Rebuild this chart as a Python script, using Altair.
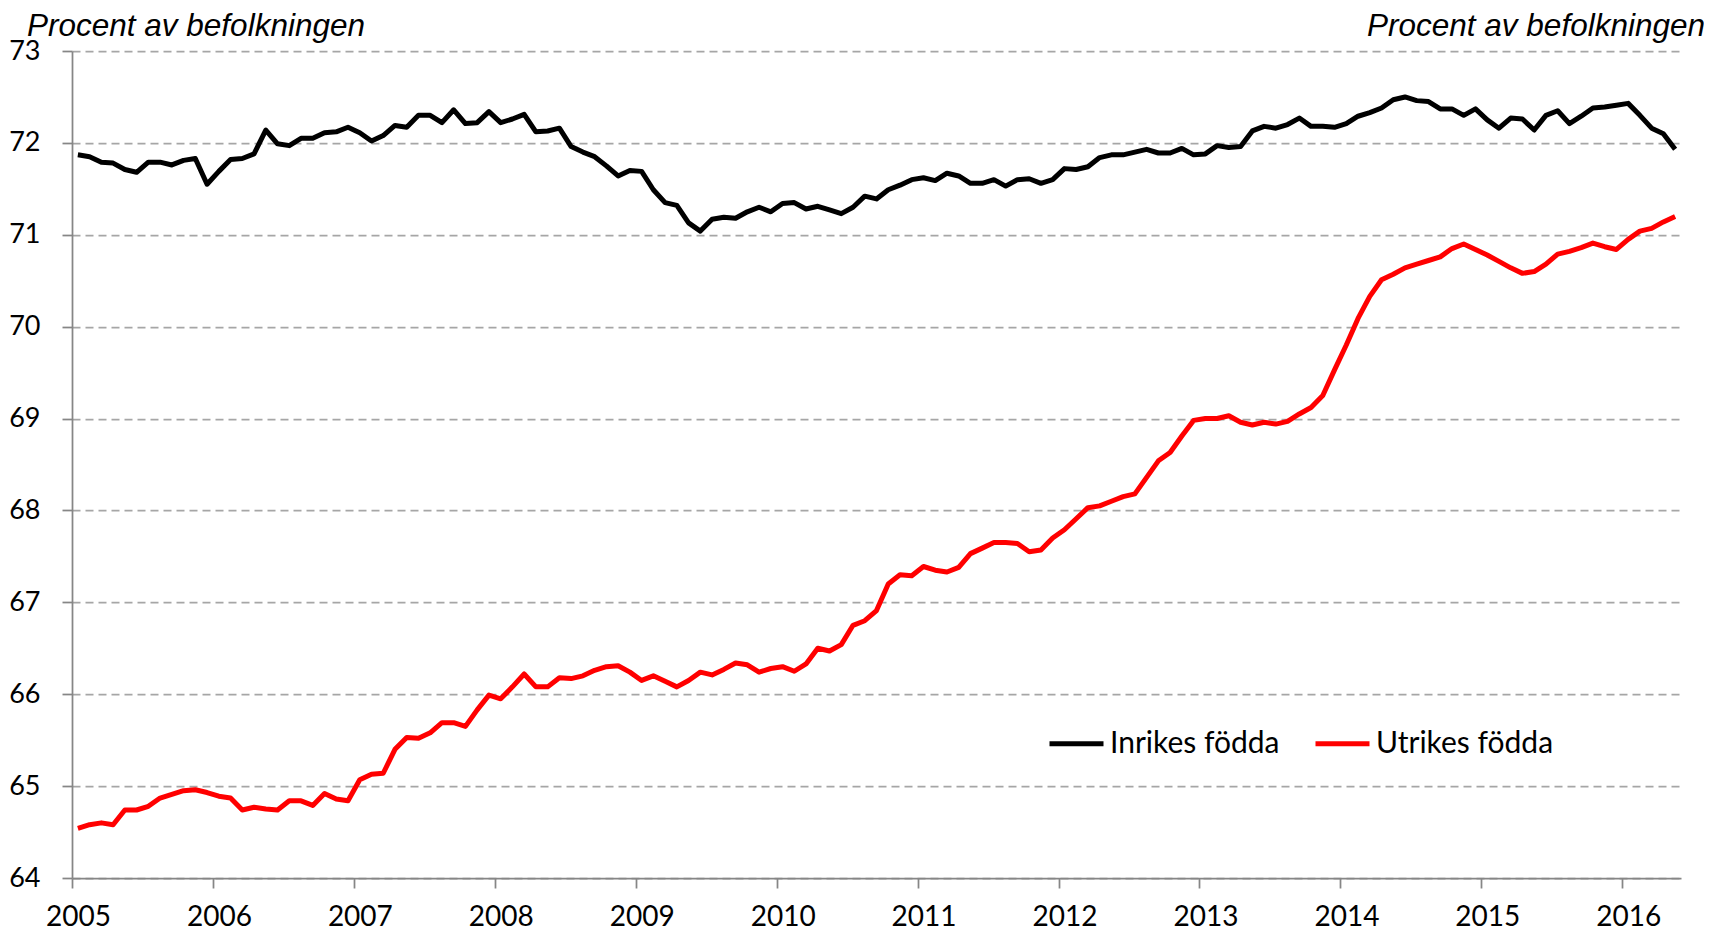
import altair as alt
import pandas as pd

# ---------------- data ----------------
year_labels = [2005, 2006, 2007, 2008, 2009, 2010, 2011, 2012, 2013, 2014, 2015, 2016]
y_ticks = [64, 65, 66, 67, 68, 69, 70, 71, 72, 73]
series_names = ["Inrikes födda", "Utrikes födda"]
series_colors = ["#000000", "#FF0000"]
axis_title = "Procent av befolkningen"

# monthly values, Jan 2005 - May 2016
inrikes = [
    71.87, 71.85, 71.79, 71.78, 71.71, 71.68, 71.79, 71.79, 71.76, 71.81, 71.83, 71.55,
    71.69, 71.82, 71.83, 71.88, 72.14, 71.99, 71.97, 72.05, 72.05, 72.11, 72.12, 72.17,
    72.11, 72.02, 72.08, 72.19, 72.17, 72.30, 72.30, 72.22, 72.36, 72.21, 72.22, 72.34,
    72.22, 72.26, 72.31, 72.12, 72.13, 72.16, 71.96, 71.90, 71.85, 71.75, 71.64, 71.70,
    71.69, 71.49, 71.35, 71.32, 71.13, 71.04, 71.17, 71.19, 71.18, 71.25, 71.30, 71.25,
    71.34, 71.35, 71.28, 71.31, 71.27, 71.23, 71.30, 71.42, 71.39, 71.49, 71.54, 71.60,
    71.62, 71.59, 71.67, 71.64, 71.56, 71.56, 71.60, 71.53, 71.60, 71.61, 71.56, 71.60,
    71.72, 71.71, 71.74, 71.84, 71.87, 71.87, 71.90, 71.93, 71.89, 71.89, 71.94, 71.87,
    71.88, 71.97, 71.95, 71.96, 72.13, 72.18, 72.16, 72.20, 72.27, 72.18, 72.18, 72.17,
    72.21, 72.29, 72.33, 72.38, 72.47, 72.50, 72.46, 72.45, 72.37, 72.37, 72.30, 72.37,
    72.25, 72.16, 72.27, 72.26, 72.14, 72.30, 72.35, 72.21, 72.29, 72.38, 72.39, 72.41,
    72.43, 72.30, 72.16, 72.10, 71.93,
]
utrikes = [
    64.54, 64.58, 64.60, 64.58, 64.74, 64.74, 64.78, 64.87, 64.91, 64.95, 64.96, 64.93,
    64.89, 64.87, 64.74, 64.77, 64.75, 64.74, 64.84, 64.84, 64.79, 64.92, 64.86, 64.84,
    65.07, 65.13, 65.14, 65.40, 65.53, 65.52, 65.58, 65.69, 65.69, 65.65, 65.83, 65.99,
    65.95, 66.08, 66.22, 66.08, 66.08, 66.18, 66.17, 66.20, 66.26, 66.30, 66.31, 66.24,
    66.15, 66.20, 66.14, 66.08, 66.15, 66.24, 66.21, 66.27, 66.34, 66.32, 66.24, 66.28,
    66.30, 66.25, 66.33, 66.50, 66.47, 66.54, 66.75, 66.80, 66.91, 67.20, 67.30, 67.29,
    67.39, 67.35, 67.33, 67.38, 67.53, 67.59, 67.65, 67.65, 67.64, 67.55, 67.57, 67.70,
    67.79, 67.91, 68.03, 68.05, 68.10, 68.15, 68.18, 68.36, 68.54, 68.63, 68.81, 68.98,
    69.00, 69.00, 69.03, 68.96, 68.93, 68.96, 68.94, 68.97, 69.05, 69.12, 69.25, 69.53,
    69.80, 70.09, 70.33, 70.51, 70.57, 70.64, 70.68, 70.72, 70.76, 70.85, 70.90, 70.84,
    70.78, 70.71, 70.64, 70.58, 70.60, 70.68, 70.79, 70.82, 70.86, 70.91, 70.87, 70.84,
    70.95, 71.04, 71.07, 71.14, 71.20,
]

rows = []
for name, vals in zip(series_names, [inrikes, utrikes]):
    for i, v in enumerate(vals):
        rows.append({"m": i + 0.5, "v": v, "serie": name})
df = pd.DataFrame(rows)

n_months = len(inrikes)
W, H = 1609, 827
GRID = "#A6A6A6"
AXIS = "#868686"
TICK_FONT = "Lato"

x_enc = alt.X(
    "m:Q",
    scale=alt.Scale(domain=[0, n_months], nice=False, zero=False),
    axis=alt.Axis(
        values=[12 * k for k in range(len(year_labels))],
        labelExpr=f"toString({year_labels[0]} + round(datum.value / 12))",
        grid=False,
        domainColor=AXIS, domainWidth=1.75,
        tickColor=AXIS, tickWidth=1.75, tickSize=10,
        labelFont=TICK_FONT, labelFontSize=28, labelColor="#000000",
        labelPadding=15, labelOffset=6, labelFlush=False, labelOverlap=False,
        title=None,
    ),
)
y_enc = alt.Y(
    "v:Q",
    scale=alt.Scale(domain=[y_ticks[0], y_ticks[-1]], nice=False, zero=False),
    axis=alt.Axis(
        values=y_ticks,
        format="d",
        grid=True, gridColor=GRID, gridDash=[8, 5], gridWidth=1.75,
        domainColor=AXIS, domainWidth=1.75,
        tickColor=AXIS, tickWidth=1.75, tickSize=10,
        labelFont=TICK_FONT, labelFontSize=27, labelColor="#000000",
        labelPadding=22,
        title=None,
    ),
)

lines = alt.Chart(df).mark_line(strokeWidth=5, strokeJoin="round").encode(
    x=x_enc,
    y=y_enc,
    color=alt.Color(
        "serie:N",
        scale=alt.Scale(domain=series_names, range=series_colors),
        legend=alt.Legend(
            title=None,
            orient="none",
            legendX=975,
            legendY=663,
            direction="horizontal",
            symbolType="stroke",
            symbolSize=2916,
            symbolStrokeWidth=5,
            labelFont=TICK_FONT,
            labelFontSize=30,
            labelColor="#000000",
            labelLimit=0,
            labelOffset=4,
            columnPadding=25,
            padding=0,
        ),
    ),
    order=alt.Order("m:Q"),
)

title_df = pd.DataFrame({"t": [axis_title]})
left_title = alt.Chart(title_df).mark_text(
    align="left", baseline="alphabetic", font="Liberation Sans",
    fontStyle="italic", fontSize=31.5, color="#000000",
).encode(text="t:N", x=alt.value(-45), y=alt.value(-15))
right_title = alt.Chart(title_df).mark_text(
    align="right", baseline="alphabetic", font="Liberation Sans",
    fontStyle="italic", fontSize=31.5, color="#000000",
).encode(text="t:N", x=alt.value(1633), y=alt.value(-15))

chart = alt.layer(lines, left_title, right_title).properties(
    width=W,
    height=H,
    padding={"left": 64, "top": 43, "right": 23, "bottom": 52},
    autosize=alt.AutoSizeParams(type="none"),
    background="#FFFFFF",
).configure_view(stroke=None)

chart.save("out.html", embed_options={"renderer": "svg", "actions": False})
